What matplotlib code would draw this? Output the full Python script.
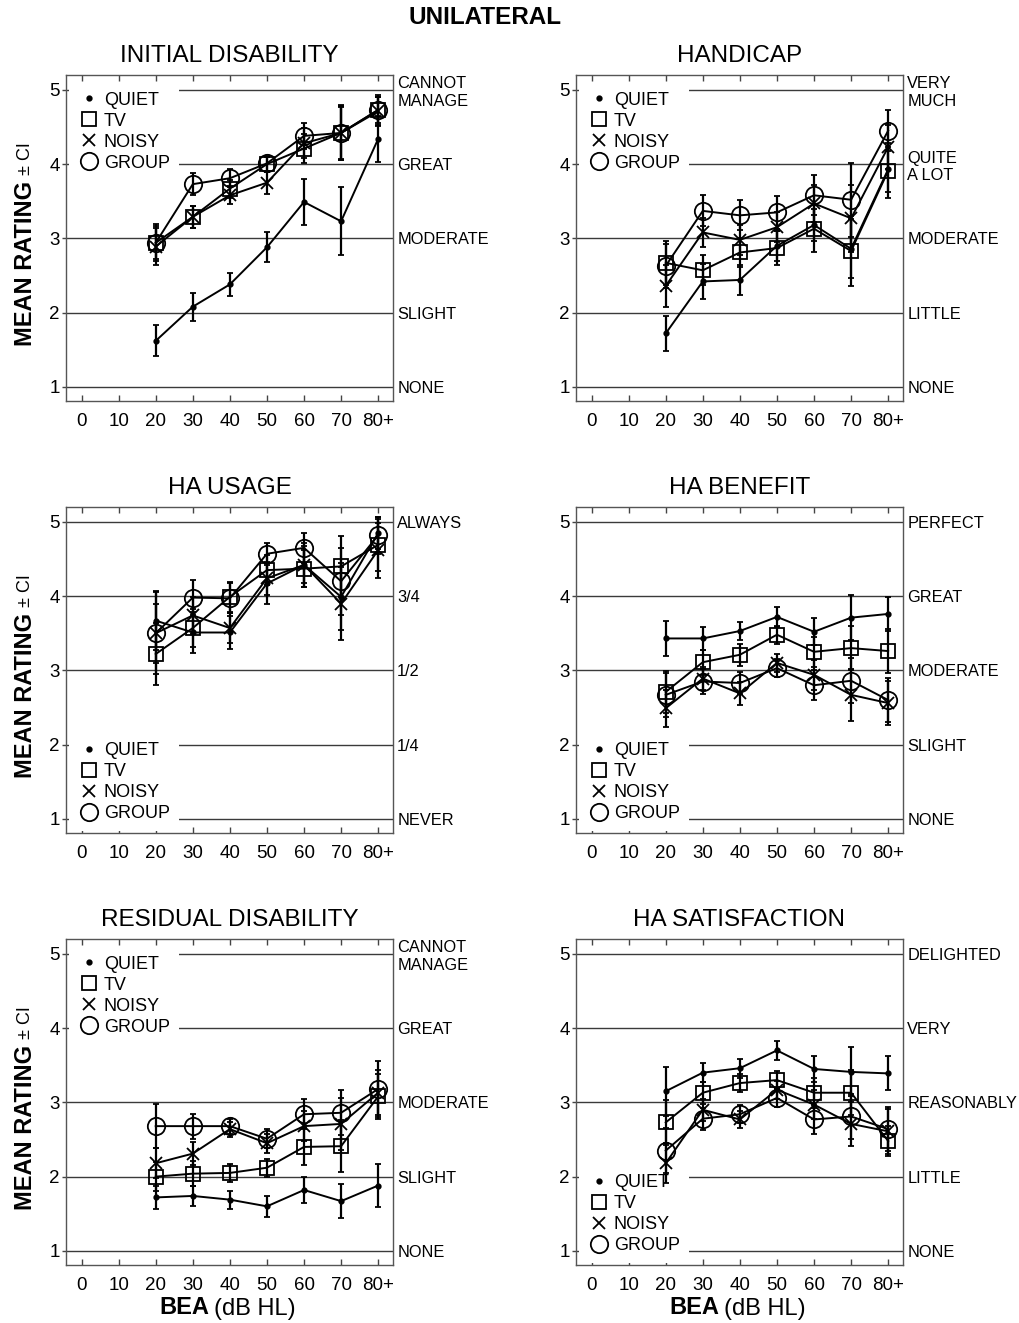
import matplotlib
matplotlib.use('Agg')
import matplotlib.pyplot as plt
from matplotlib.lines import Line2D

plt.rcParams['font.family'] = ['Liberation Sans', 'DejaVu Sans']

# data
bea = [20, 30, 40, 50, 60, 70, 80]
xtick_pos = [0, 10, 20, 30, 40, 50, 60, 70, 80]
xtick_labels = ['0', '10', '20', '30', '40', '50', '60', '70', '80+']
conditions = ['QUIET', 'TV', 'NOISY', 'GROUP']

# INITIAL DISABILITY
init_quiet = [1.62, 2.08, 2.38, 2.88, 3.49, 3.23, 4.34]
init_tv = [2.94, 3.29, 3.67, 4.00, 4.21, 4.42, 4.73]
init_noisy = [2.89, 3.29, 3.58, 3.75, 4.28, 4.42, 4.71]
init_group = [2.94, 3.73, 3.81, 4.01, 4.38, 4.42, 4.73]
init_quiet_ci = [0.21, 0.19, 0.16, 0.20, 0.31, 0.46, 0.31]
init_tv_ci = [0.25, 0.15, 0.12, 0.10, 0.20, 0.37, 0.18]
init_noisy_ci = [0.25, 0.15, 0.12, 0.15, 0.20, 0.35, 0.20]
init_group_ci = [0.22, 0.15, 0.12, 0.10, 0.18, 0.36, 0.20]
init_levels = ['NONE', 'SLIGHT', 'MODERATE', 'GREAT', 'CANNOT\nMANAGE']

# HANDICAP
hand_quiet = [1.72, 2.42, 2.44, 2.90, 3.18, 2.86, 3.93]
hand_tv = [2.67, 2.57, 2.81, 2.87, 3.13, 2.83, 3.91]
hand_noisy = [2.36, 3.08, 2.98, 3.15, 3.47, 3.27, 4.23]
hand_group = [2.63, 3.37, 3.31, 3.35, 3.58, 3.52, 4.45]
hand_quiet_ci = [0.23, 0.24, 0.20, 0.20, 0.22, 0.40, 0.30]
hand_tv_ci = [0.30, 0.20, 0.20, 0.23, 0.32, 0.47, 0.37]
hand_noisy_ci = [0.28, 0.20, 0.20, 0.20, 0.25, 0.45, 0.30]
hand_group_ci = [0.30, 0.21, 0.20, 0.22, 0.27, 0.50, 0.28]
hand_levels = ['NONE', 'LITTLE', 'MODERATE', 'QUITE\nA LOT', 'VERY\nMUCH']

# HA USAGE
use_quiet = [3.67, 3.51, 3.51, 4.17, 4.42, 3.99, 4.85]
use_tv = [3.22, 3.57, 3.99, 4.35, 4.37, 4.40, 4.69]
use_noisy = [3.50, 3.74, 3.57, 4.24, 4.42, 3.90, 4.62]
use_group = [3.50, 3.98, 3.97, 4.57, 4.65, 4.20, 4.82]
use_quiet_ci = [0.40, 0.27, 0.22, 0.27, 0.30, 0.45, 0.22]
use_tv_ci = [0.42, 0.25, 0.20, 0.20, 0.25, 0.41, 0.35]
use_noisy_ci = [0.40, 0.25, 0.20, 0.22, 0.25, 0.49, 0.37]
use_group_ci = [0.55, 0.24, 0.20, 0.15, 0.20, 0.45, 0.25]
use_levels = ['NEVER', '1/4', '1/2', '3/4', 'ALWAYS']

# HA BENEFIT
ben_quiet = [3.43, 3.43, 3.53, 3.72, 3.52, 3.71, 3.76]
ben_tv = [2.71, 3.11, 3.21, 3.48, 3.25, 3.30, 3.26]
ben_noisy = [2.49, 2.89, 2.69, 3.10, 2.94, 2.67, 2.56]
ben_group = [2.67, 2.85, 2.83, 3.03, 2.80, 2.86, 2.60]
ben_quiet_ci = [0.24, 0.15, 0.12, 0.13, 0.18, 0.30, 0.23]
ben_tv_ci = [0.28, 0.17, 0.15, 0.12, 0.20, 0.30, 0.30]
ben_noisy_ci = [0.25, 0.15, 0.15, 0.12, 0.20, 0.35, 0.30]
ben_group_ci = [0.30, 0.17, 0.15, 0.12, 0.20, 0.30, 0.30]
ben_levels = ['NONE', 'SLIGHT', 'MODERATE', 'GREAT', 'PERFECT']

# RESIDUAL DISABILITY
res_quiet = [1.72, 1.74, 1.69, 1.60, 1.82, 1.67, 1.88]
res_tv = [2.00, 2.04, 2.05, 2.12, 2.40, 2.41, 3.08]
res_noisy = [2.18, 2.31, 2.64, 2.45, 2.68, 2.71, 3.13]
res_group = [2.68, 2.68, 2.68, 2.51, 2.84, 2.86, 3.18]
res_quiet_ci = [0.15, 0.13, 0.12, 0.14, 0.18, 0.23, 0.29]
res_tv_ci = [0.20, 0.17, 0.12, 0.12, 0.25, 0.35, 0.30]
res_noisy_ci = [0.20, 0.15, 0.10, 0.13, 0.20, 0.35, 0.30]
res_group_ci = [0.30, 0.17, 0.10, 0.13, 0.20, 0.30, 0.38]
res_levels = ['NONE', 'SLIGHT', 'MODERATE', 'GREAT', 'CANNOT\nMANAGE']

# HA SATISFACTION
sat_quiet = [3.15, 3.40, 3.46, 3.70, 3.45, 3.41, 3.39]
sat_tv = [2.73, 3.13, 3.26, 3.30, 3.13, 3.13, 2.48]
sat_noisy = [2.18, 2.90, 2.77, 3.17, 2.97, 2.71, 2.61]
sat_group = [2.35, 2.78, 2.84, 3.06, 2.77, 2.81, 2.64]
sat_quiet_ci = [0.33, 0.13, 0.13, 0.13, 0.18, 0.33, 0.23]
sat_tv_ci = [0.30, 0.15, 0.12, 0.12, 0.20, 0.30, 0.20]
sat_noisy_ci = [0.27, 0.15, 0.12, 0.12, 0.20, 0.30, 0.30]
sat_group_ci = [0.30, 0.15, 0.12, 0.12, 0.20, 0.30, 0.30]
sat_levels = ['NONE', 'LITTLE', 'REASONABLY', 'VERY', 'DELIGHTED']

panels = [
    ('INITIAL DISABILITY', [init_quiet, init_tv, init_noisy, init_group],
     [init_quiet_ci, init_tv_ci, init_noisy_ci, init_group_ci], init_levels, 'upper left'),
    ('HANDICAP', [hand_quiet, hand_tv, hand_noisy, hand_group],
     [hand_quiet_ci, hand_tv_ci, hand_noisy_ci, hand_group_ci], hand_levels, 'upper left'),
    ('HA USAGE', [use_quiet, use_tv, use_noisy, use_group],
     [use_quiet_ci, use_tv_ci, use_noisy_ci, use_group_ci], use_levels, 'lower left'),
    ('HA BENEFIT', [ben_quiet, ben_tv, ben_noisy, ben_group],
     [ben_quiet_ci, ben_tv_ci, ben_noisy_ci, ben_group_ci], ben_levels, 'lower left'),
    ('RESIDUAL DISABILITY', [res_quiet, res_tv, res_noisy, res_group],
     [res_quiet_ci, res_tv_ci, res_noisy_ci, res_group_ci], res_levels, 'upper left'),
    ('HA SATISFACTION', [sat_quiet, sat_tv, sat_noisy, sat_group],
     [sat_quiet_ci, sat_tv_ci, sat_noisy_ci, sat_group_ci], sat_levels, 'lower left'),
]

# marker style per condition
styles = {
    'QUIET': dict(marker='o', ms=3.2, mfc='black'),
    'TV': dict(marker='s', ms=9.5, mfc='none'),
    'NOISY': dict(marker='x', ms=9.0, mfc='none'),
    'GROUP': dict(marker='o', ms=12.5, mfc='none'),
}

W, H = 1020, 1323
fig = plt.figure(figsize=(W / 100, H / 100), dpi=100)

col_left = [66, 576]
row_top = [75, 507, 939]
ax_w, ax_h = 327, 326

for i, (name, means, cis, levels, legloc) in enumerate(panels):
    r, c = divmod(i, 2)
    rect = [col_left[c] / W, 1 - (row_top[r] + ax_h) / H, ax_w / W, ax_h / H]
    ax = fig.add_axes(rect)

    for lvl in range(1, 6):
        ax.axhline(lvl, color='#3a3a3a', lw=1.0, zorder=1)

    for cond, m, ci in zip(conditions, means, cis):
        st = styles[cond]
        ax.errorbar(bea, m, yerr=ci, color='black', lw=1.4, marker=st['marker'],
                    ms=st['ms'], mfc=st['mfc'], mec='black', mew=1.3,
                    capsize=2.5, capthick=1.3, elinewidth=1.6, zorder=3)

    ax.set_xlim(-4.2, 84)
    ax.set_ylim(0.81, 5.2)
    ax.set_xticks(xtick_pos)
    ax.set_xticklabels(xtick_labels)
    ax.set_yticks([1, 2, 3, 4, 5])
    ax.tick_params(axis='x', direction='in', top=True, length=4, width=1,
                   labelsize=13.5, pad=8.5, color='#444444')
    ax.tick_params(axis='y', direction='out', length=3, width=1,
                   labelsize=13.5, pad=1.5, color='#444444')
    for sp in ax.spines.values():
        sp.set_color('#555555')
        sp.set_linewidth(1.0)
    ax.set_title(name, fontsize=17.5, pad=9)

    axr = ax.twinx()
    axr.set_ylim(ax.get_ylim())
    axr.set_yticks([1, 2, 3, 4, 5])
    axr.set_yticklabels(levels)
    axr.tick_params(axis='y', length=0, pad=3, labelsize=11.8)
    for sp in axr.spines.values():
        sp.set_visible(False)

    handles = [Line2D([], [], ls='none', color='black', marker=styles[cd]['marker'],
                      ms=styles[cd]['ms'], mfc=styles[cd]['mfc'], mec='black', mew=1.3)
               for cd in conditions]
    if legloc == 'upper left':
        anchor = (0, 1 - 5 / ax_h)
    else:
        anchor = (0, -1 / ax_h)
    leg = ax.legend(handles, conditions, loc=legloc, bbox_to_anchor=anchor,
                    fontsize=13, frameon=True, facecolor='white', edgecolor='none',
                    framealpha=1, fancybox=False, borderaxespad=0.15, borderpad=0.5,
                    handlelength=1.2, handletextpad=0.25, labelspacing=0.22)
    leg.set_zorder(2)

    if c == 0:
        yc = 1 - (row_top[r] + 188) / H
        t1 = fig.text(26 / W, yc, 'MEAN RATING', rotation=90, fontsize=17,
                      fontweight='bold', ha='center', va='center')
        ax.annotate('\u00b1 CI', xy=(0.5, 1), xycoords=t1, xytext=(0, 4),
                    textcoords='offset points', rotation=90, fontsize=13,
                    ha='center', va='bottom', annotation_clip=False)
    if r == 2:
        xl = fig.text((col_left[c] + 93) / W, 1 - 1308 / H, 'BEA', fontsize=17,
                      fontweight='bold', ha='left', va='center')
        ax.annotate('(dB HL)', xy=(1, 0), xycoords=xl, xytext=(4, 0),
                    textcoords='offset points', fontsize=17, ha='left',
                    va='bottom', annotation_clip=False)

fig.text(485 / W, 1 - 18 / H, 'UNILATERAL', fontsize=17.5, fontweight='bold',
         ha='center', va='center')

fig.savefig('out.png', dpi=100)
